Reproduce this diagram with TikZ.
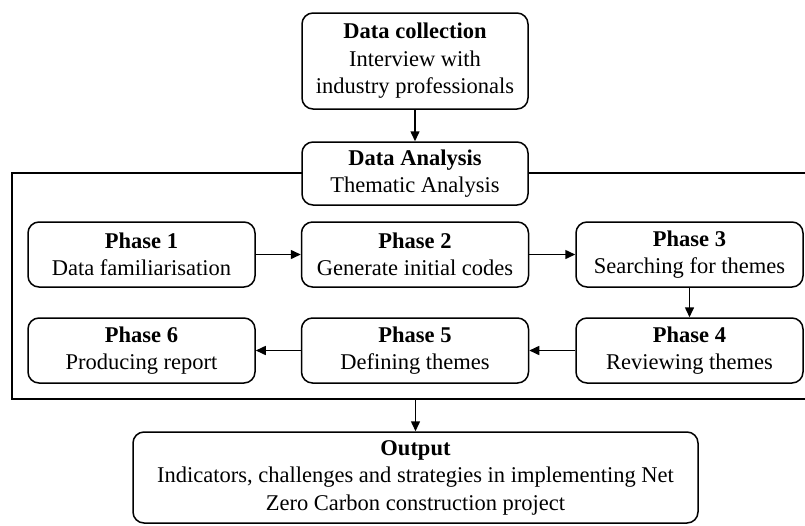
\documentclass[tikz,border=0pt]{standalone}
\usepackage{fontspec}
\setmainfont{Liberation Serif}
\usetikzlibrary{arrows.meta}
\begin{document}
\begin{tikzpicture}[x=1pt,y=-1pt,
  box/.style={draw, line width=1.5pt, rounded corners=11pt, fill=white, align=center,
    inner sep=0pt, font=\fontsize{22.5}{27.5}\selectfont},
  phasebox/.style={box, minimum width=227pt, minimum height=65pt},
  frame/.style={draw, line width=1.5pt, inner sep=0pt},
  arr/.style={-{Triangle[length=10pt,width=9pt]}, line width=1.5pt}]
\useasboundingbox (0,0) rectangle (805,525);
\clip (0,0) rectangle (805,525);
\node[frame, minimum width=818pt, minimum height=226pt] (frame) at (421,286) {};
\node[box, minimum width=226pt, minimum height=96pt] (dc) at (415,61)
  {\textbf{Data collection}\\Interview with\\industry professionals};
\node[box, minimum width=226pt, minimum height=63pt] (da) at (415,173.5)
  {\textbf{Data Analysis}\\Thematic Analysis};
\node[phasebox] (p1) at (141.5,254.5) {\textbf{Phase 1}\\Data familiarisation};
\node[phasebox] (p2) at (415,254.5) {\textbf{Phase 2}\\Generate initial codes};
\node[phasebox] (p3) at (689.5,254.5) {\textbf{Phase 3}\\Searching for themes};
\node[phasebox] (p4) at (689.5,350.5) {\textbf{Phase 4}\\Reviewing themes};
\node[phasebox] (p5) at (415,350.5) {\textbf{Phase 5}\\Defining themes};
\node[phasebox] (p6) at (141.5,350.5) {\textbf{Phase 6}\\Producing report};
\node[box, minimum width=565pt, minimum height=91pt] (out) at (415.5,477.5)
  {\textbf{Output}\\Indicators, challenges and strategies in implementing Net\\Zero Carbon construction project};
\draw[arr] (dc.south) -- (da.north);
\draw[arr] (p1.east) -- (p2.west);
\draw[arr] (p2.east) -- (p3.west);
\draw[arr] (p3.south) -- (p4.north);
\draw[arr] (p4.west) -- (p5.east);
\draw[arr] (p5.west) -- (p6.east);
\draw[arr] (out.north |- frame.south) -- (out.north);
\end{tikzpicture}
\end{document}
